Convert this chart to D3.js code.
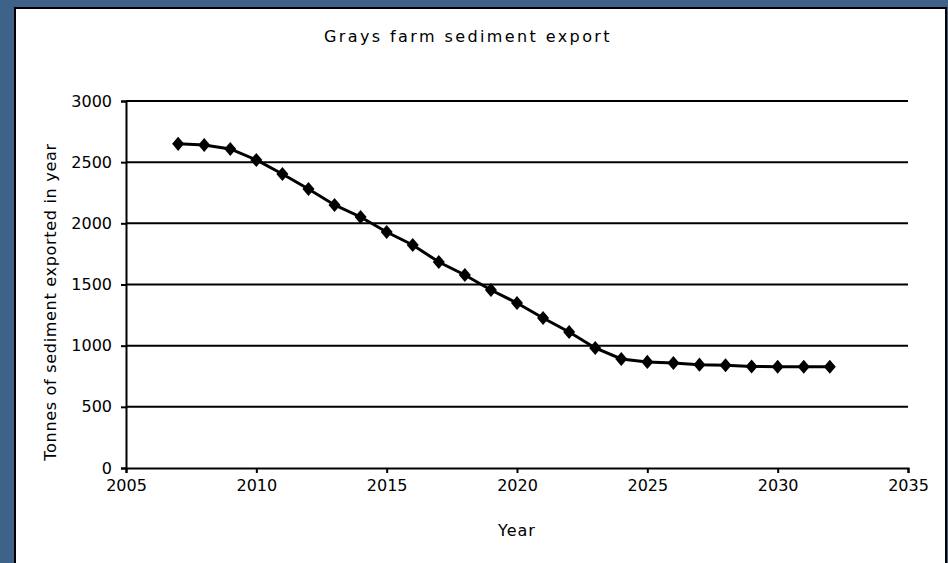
<!DOCTYPE html>
<html>
<head>
<meta charset="utf-8">
<script src="https://cdn.jsdelivr.net/npm/d3@7"></script>
<style>
  html, body { margin: 0; padding: 0; background: #3f6289; }
  svg { display: block; }
  text { font-family: "DejaVu Sans", sans-serif; fill: #000; }
</style>
</head>
<body>
<svg id="chart" width="948" height="563"></svg>
<script>
// values
const years = [2007, 2008, 2009, 2010, 2011, 2012, 2013, 2014, 2015, 2016, 2017, 2018, 2019,
  2020, 2021, 2022, 2023, 2024, 2025, 2026, 2027, 2028, 2029, 2030, 2031, 2032];
const tonnes = [2650, 2640, 2608, 2518, 2403, 2281, 2150, 2052, 1929, 1823, 1684, 1578, 1455,
  1349, 1226, 1112, 981, 891, 867, 858, 845, 840, 830, 828, 828, 828];
const xTicks = [2005, 2010, 2015, 2020, 2025, 2030, 2035];
const yTicks = [0, 500, 1000, 1500, 2000, 2500, 3000];

const title = "Grays farm sediment export";
const xLabel = "Year";
const yLabel = "Tonnes of sediment exported in year";

const svg = d3.select("#chart");

// blue frame + white panel
svg.append("rect")
  .attr("x", 15).attr("y", 8)
  .attr("width", 931).attr("height", 560)
  .attr("fill", "#fff")
  .attr("stroke", "#000")
  .attr("stroke-width", 2);

const x = d3.scaleLinear().domain([2005, 2035]).range([126, 908]);
const y = d3.scaleLinear().domain([0, 3000]).range([468, 101]);

// gridlines
svg.append("g")
  .selectAll("line")
  .data(yTicks.filter((d) => d > 0))
  .enter()
  .append("line")
  .attr("x1", x(2005))
  .attr("x2", x(2035))
  .attr("y1", (d) => y(d))
  .attr("y2", (d) => y(d))
  .attr("stroke", "#000")
  .attr("stroke-width", 2);

// axes
const yAxis = svg.append("g")
  .attr("transform", `translate(${x(2005)},0)`)
  .call(d3.axisLeft(y).tickValues(yTicks).tickSize(5).tickPadding(9).tickFormat(d3.format("d")));
const xAxis = svg.append("g")
  .attr("transform", `translate(0,${y(0)})`)
  .call(d3.axisBottom(x).tickValues(xTicks).tickSize(5).tickPadding(7).tickFormat(d3.format("d")));

[yAxis, xAxis].forEach((g) => {
  g.select(".domain").attr("stroke", "#000").attr("stroke-width", 2);
  g.selectAll(".tick line").attr("stroke", "#000").attr("stroke-width", 2);
  g.selectAll(".tick text")
    .attr("font-size", 16)
    .attr("font-family", "DejaVu Sans, sans-serif")
    .attr("fill", "#000");
});

// series
const data = years.map((yr, i) => ({ year: yr, value: tonnes[i] }));

svg.append("path")
  .datum(data)
  .attr("fill", "none")
  .attr("stroke", "#000")
  .attr("stroke-width", 3)
  .attr("d", d3.line().x((d) => x(d.year)).y((d) => y(d.value)));

// tall diamond marker
const diamond = {
  draw(context, size) {
    const h = Math.sqrt(size) * 0.55;
    const w = h * 0.85;
    context.moveTo(0, -h);
    context.lineTo(w, 0);
    context.lineTo(0, h);
    context.lineTo(-w, 0);
    context.closePath();
  },
};

svg.append("g")
  .selectAll("path")
  .data(data)
  .enter()
  .append("path")
  .attr("transform", (d) => `translate(${x(d.year)},${y(d.value)})`)
  .attr("d", d3.symbol().type(diamond).size(165))
  .attr("fill", "#000");

// titles
svg.append("text")
  .attr("x", 468).attr("y", 42)
  .attr("text-anchor", "middle")
  .attr("font-size", 16)
  .attr("letter-spacing", 2.4)
  .text(title);

svg.append("text")
  .attr("x", 517).attr("y", 536)
  .attr("text-anchor", "middle")
  .attr("font-size", 16)
  .attr("letter-spacing", 1)
  .text(xLabel);

svg.append("text")
  .attr("transform", "translate(56,302) rotate(-90)")
  .attr("text-anchor", "middle")
  .attr("font-size", 16)
  .attr("letter-spacing", 0.7)
  .text(yLabel);
</script>
</body>
</html>
